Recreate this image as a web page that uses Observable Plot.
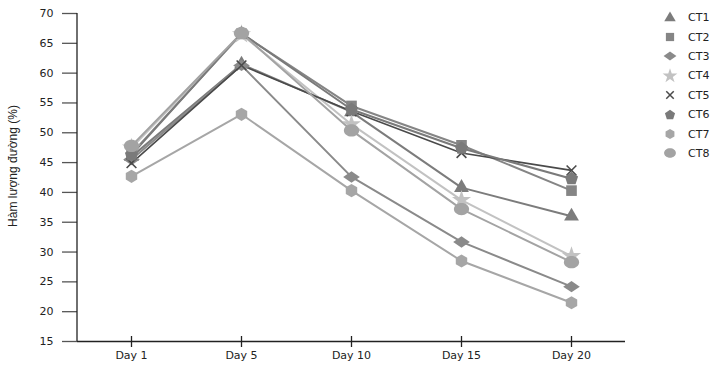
<!DOCTYPE html>
<html>
<head>
<meta charset="utf-8">
<script src="https://cdn.jsdelivr.net/npm/d3@7"></script>
<script src="https://cdn.jsdelivr.net/npm/@observablehq/plot@0.6"></script>
<style>
  body { margin: 0; background: #fff; }
  #wrap { position: relative; width: 721px; height: 374px; font-family: "DejaVu Sans", Verdana, sans-serif; }
  #legend { position: absolute; left: 660px; top: 8px; font-size: 11px; color: #222; }
  #legend .row { display: flex; align-items: center; height: 19.4px; }
  #legend svg { width: 20px; height: 16px; margin-right: 8px; }
</style>
</head>
<body>
<div id="wrap"><div id="legend"></div></div>
<script>
const days = ["Day 1", "Day 5", "Day 10", "Day 15", "Day 20"];
const seriesNames = ["CT1", "CT2", "CT3", "CT4", "CT5", "CT6", "CT7", "CT8"];
const CT1 = [46.0, 61.5, 53.5, 40.8, 36.0];
const CT2 = [46.5, 66.6, 54.5, 47.9, 40.3];
const CT3 = [45.5, 61.3, 42.6, 31.7, 24.2];
const CT4 = [47.5, 66.5, 51.4, 38.7, 29.3];
const CT5 = [44.9, 61.3, 53.6, 46.6, 43.7];
const CT6 = [46.3, 66.7, 53.9, 47.4, 42.3];
const CT7 = [42.7, 53.1, 40.3, 28.5, 21.5];
const CT8 = [47.8, 66.7, 50.4, 37.2, 28.3];
const yTicks = [15, 20, 25, 30, 35, 40, 45, 50, 55, 60, 65, 70];

const values = {CT1, CT2, CT3, CT4, CT5, CT6, CT7, CT8};
const colors = {CT1: "#7c7c7c", CT2: "#858585", CT3: "#8a8a8a", CT4: "#c2c2c2",
                CT5: "#4a4a4a", CT6: "#7a7a7a", CT7: "#a6a6a6", CT8: "#a3a3a3"};

function polygon(n, rot) {
  return {
    draw(ctx, size) {
      const area = n / 2 * Math.sin(2 * Math.PI / n);
      const r = Math.sqrt(size / area);
      for (let i = 0; i < n; i++) {
        const a = rot + i * 2 * Math.PI / n;
        const x = r * Math.cos(a), y = r * Math.sin(a);
        if (i === 0) ctx.moveTo(x, y); else ctx.lineTo(x, y);
      }
      ctx.closePath();
    }
  };
}
const pentagon = polygon(5, -Math.PI / 2);
const hexagon = polygon(6, -Math.PI / 2);
const wideDiamond = {
  draw(ctx, size) {
    // width:height = 1.45:1, area = w*h/2
    const h = Math.sqrt(2 * size / 1.45), w = 1.45 * h;
    ctx.moveTo(-w / 2, 0); ctx.lineTo(0, -h / 2); ctx.lineTo(w / 2, 0); ctx.lineTo(0, h / 2); ctx.closePath();
  }
};
const ellipse = {
  draw(ctx, size) {
    const r = Math.sqrt(size / Math.PI);
    const rx = r * 1.12, ry = r * 0.9;
    const k = 0.5523;
    ctx.moveTo(rx, 0);
    ctx.bezierCurveTo(rx, ry * k, rx * k, ry, 0, ry);
    ctx.bezierCurveTo(-rx * k, ry, -rx, ry * k, -rx, 0);
    ctx.bezierCurveTo(-rx, -ry * k, -rx * k, -ry, 0, -ry);
    ctx.bezierCurveTo(rx * k, -ry, rx, -ry * k, rx, 0);
    ctx.closePath();
  }
};
const symbols = {CT1: d3.symbolTriangle, CT2: d3.symbolSquare, CT3: wideDiamond, CT4: d3.symbolStar,
                 CT5: d3.symbolTimes, CT6: pentagon, CT7: hexagon, CT8: ellipse};
const radii = {CT1: 5.5, CT2: 6, CT3: 5.5, CT4: 6, CT5: 4.5, CT6: 6, CT7: 6, CT8: 6.8};

const data = seriesNames.flatMap(s => days.map((d, i) => ({series: s, day: d, value: values[s][i]})));

const marks = [
  Plot.ruleY([15], {stroke: "#222", strokeWidth: 1.3}),
  Plot.ruleX(days, {x: d => d, y1: () => 15, y2: () => 15, insetTop: -5, insetBottom: -6, stroke: "#222", strokeWidth: 1.3}),
  Plot.axisX({tickSize: 0, tickPadding: 10, fontSize: 11, fill: "#222"}),
  Plot.axisY({ticks: yTicks, tickSize: 15, tickPadding: 9, fontSize: 11, stroke: "#555", strokeWidth: 1.3, fill: "#222", label: null})
];
for (const s of seriesNames) {
  const rows = data.filter(d => d.series === s);
  marks.push(Plot.line(rows, {x: "day", y: "value", stroke: colors[s], strokeWidth: s === "CT5" ? 1.6 : 2}));
}
for (const s of seriesNames) {
  const rows = data.filter(d => d.series === s);
  const isX = s === "CT5";
  marks.push(Plot.dot(rows, {x: "day", y: "value", symbol: symbols[s], r: radii[s],
    fill: isX ? "none" : colors[s], stroke: isX ? colors[s] : "none", strokeWidth: isX ? 1.6 : 0}));
}

const chart = Plot.plot({
  width: 721, height: 374,
  marginLeft: 77, marginRight: 96, marginTop: 13, marginBottom: 33,
  style: {fontFamily: "'DejaVu Sans', Verdana, sans-serif", background: "#fff"},
  x: {type: "point", domain: days, padding: 0.49, label: null},
  y: {domain: [15, 70], label: null},
  marks
});
const wrap = document.getElementById("wrap");
wrap.insertBefore(chart, wrap.firstChild);
chart.style.position = "absolute"; chart.style.left = "0"; chart.style.top = "0";

const svg = d3.select(chart);
svg.append("line").attr("x1", 77).attr("x2", 77).attr("y1", 13).attr("y2", 341).attr("stroke", "#222").attr("stroke-width", 1.3);
svg.append("text").text("Hàm lượng đường (%)")
  .attr("transform", "translate(17,166) rotate(-90)")
  .attr("text-anchor", "middle")
  .attr("font-family", "'Liberation Sans Narrow', 'Arial Narrow', 'Liberation Sans', sans-serif")
  .attr("font-size", 12).attr("fill", "#222");

const legend = d3.select("#legend");
for (const s of seriesNames) {
  const row = legend.append("div").attr("class", "row");
  const sv = row.append("svg");
  const isX = s === "CT5";
  sv.append("path").attr("transform", "translate(10,8)")
    .attr("d", d3.symbol(symbols[s], Math.PI * radii[s] * radii[s] * 0.6)())
    .attr("fill", isX ? "none" : colors[s]).attr("stroke", isX ? colors[s] : "none").attr("stroke-width", 1.5);
  row.append("span").text(s);
}
</script>
</body>
</html>
